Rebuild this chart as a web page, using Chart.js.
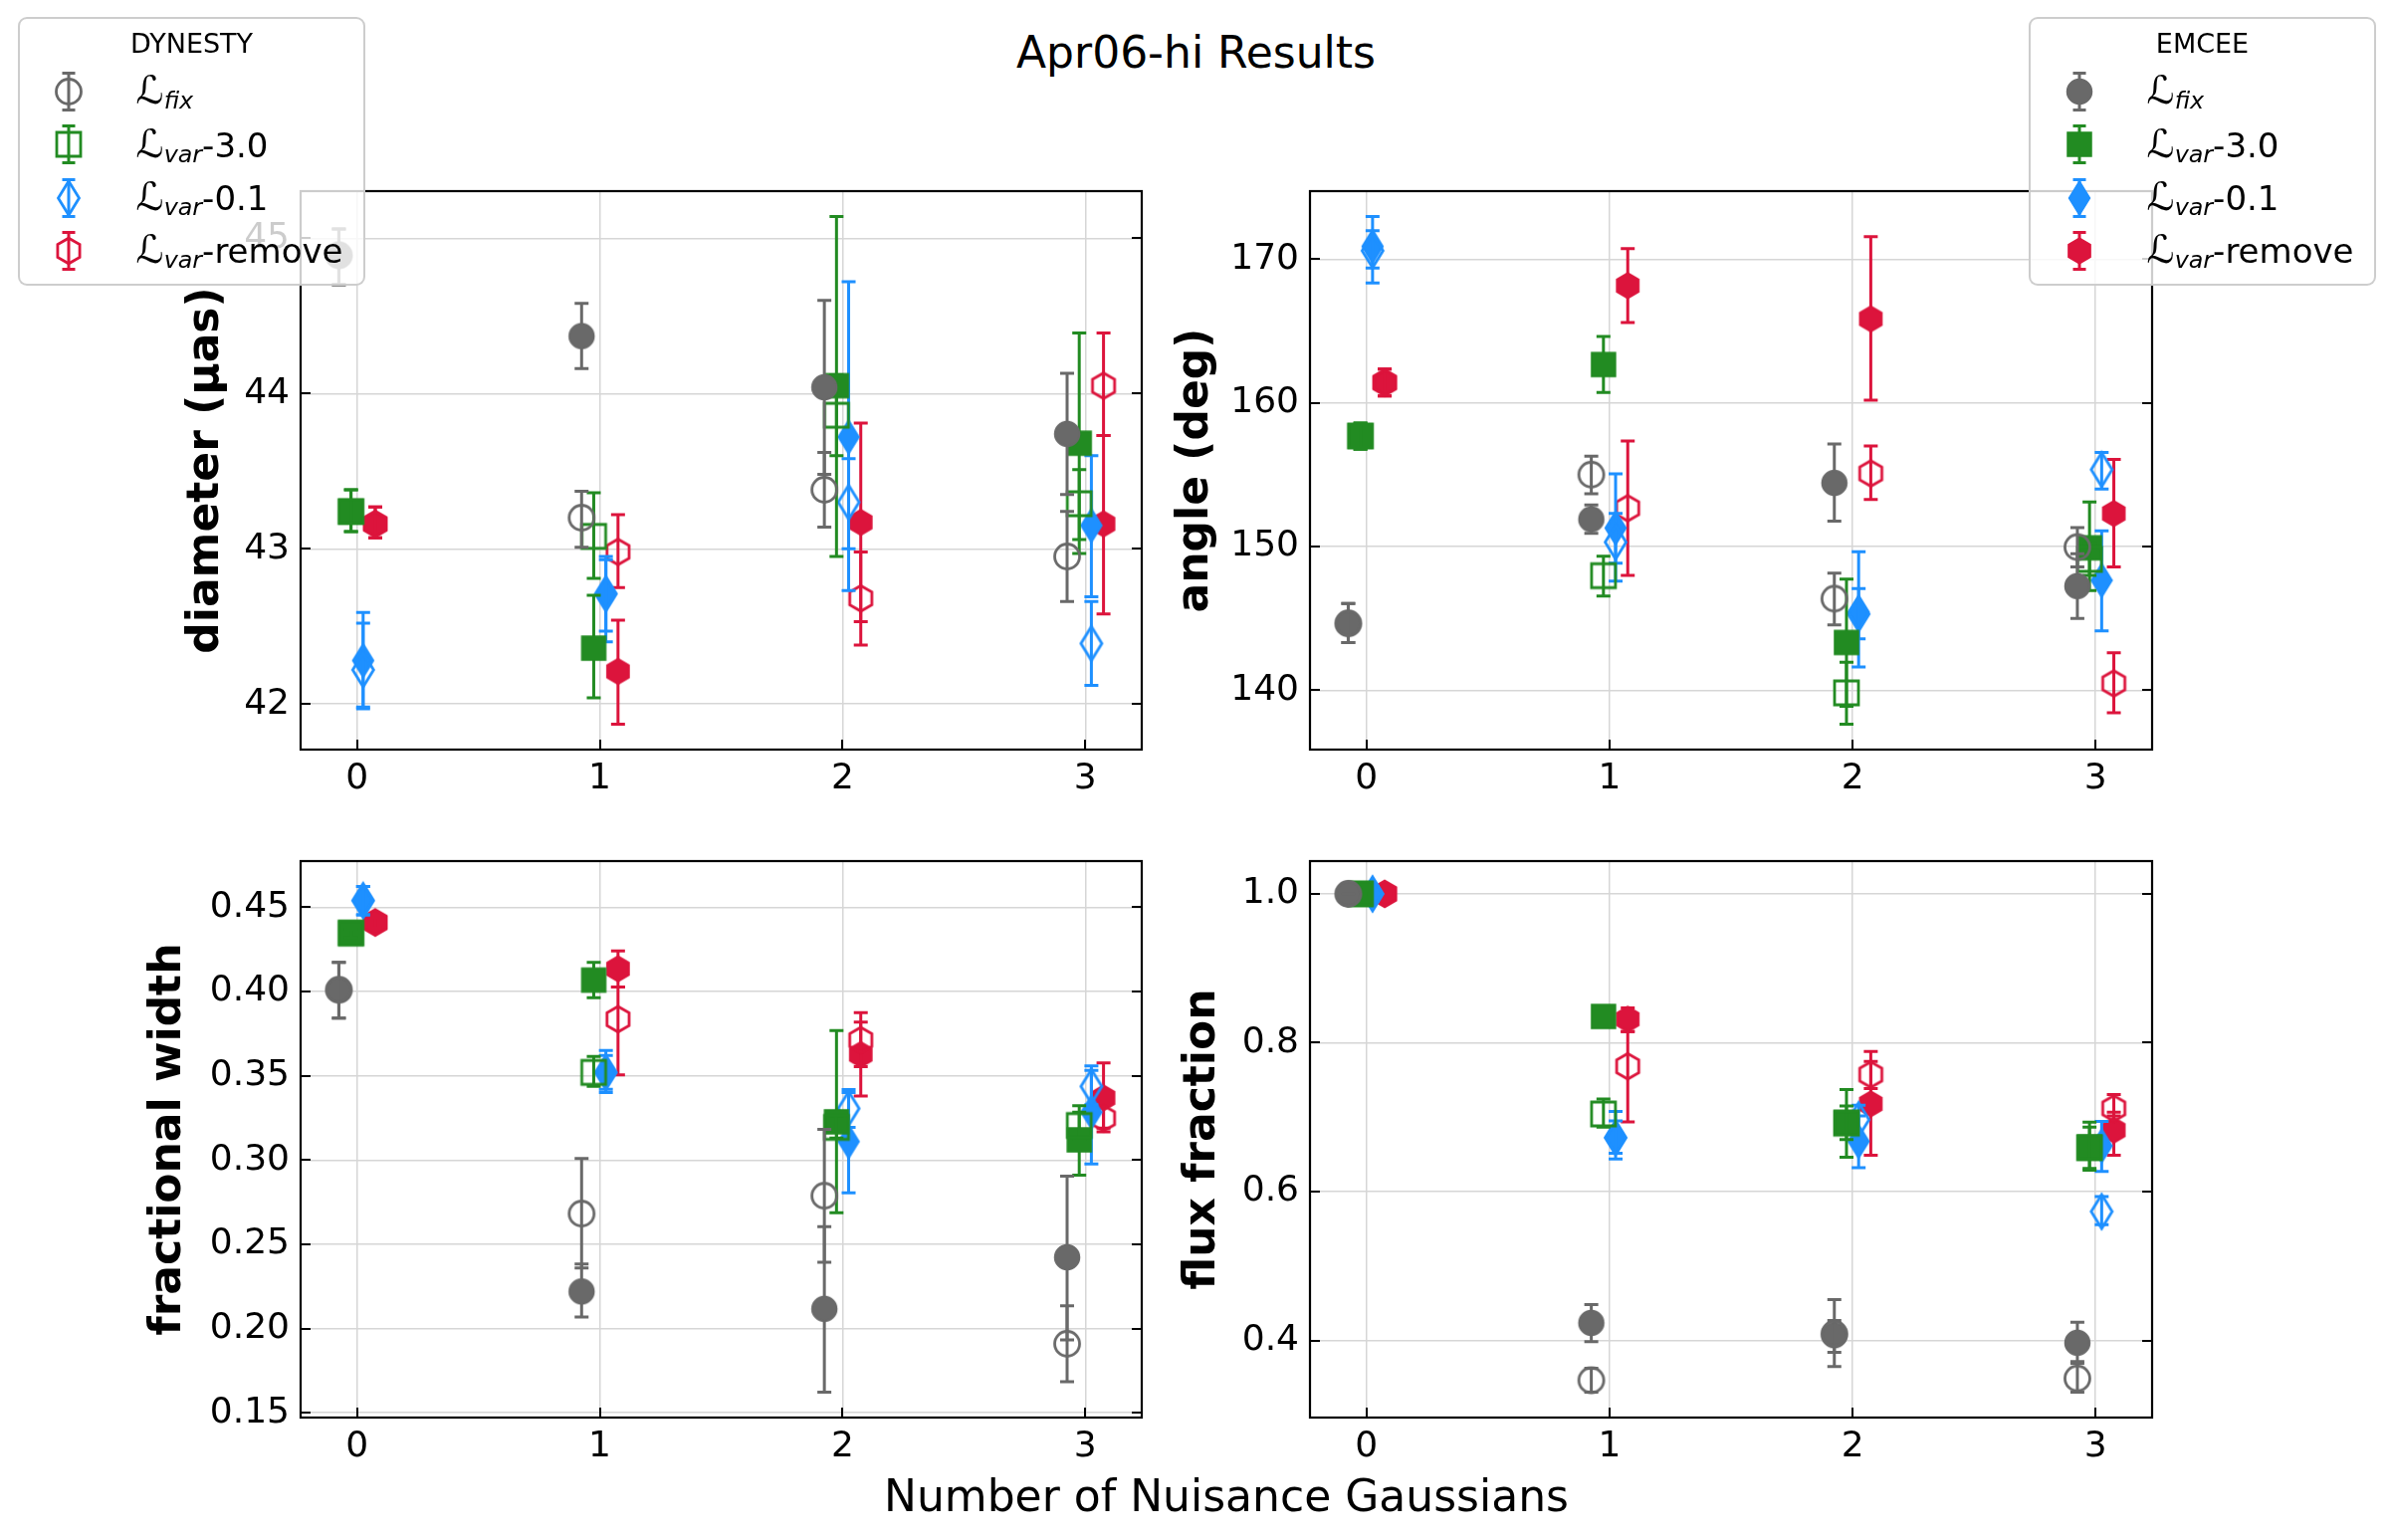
<!DOCTYPE html>
<html>
<head>
<meta charset="utf-8">
<script src="https://cdn.jsdelivr.net/npm/chart.js@4.4.1/dist/chart.umd.min.js"></script>
<style>
html,body{margin:0;padding:0;background:#fff;}
#wrap{position:relative;width:2403px;height:1547px;background:#fff;overflow:hidden;font-family:"DejaVu Sans",sans-serif;color:#000;}
canvas.panel{position:absolute;}
.lbl{position:absolute;white-space:nowrap;text-align:center;}
.legend{position:absolute;width:349px;height:270px;box-sizing:border-box;border:2.5px solid rgba(200,200,200,0.9);border-radius:9px;background:rgba(255,255,255,0.8);z-index:10;}
.legtitle{position:absolute;left:0;width:100%;text-align:center;font-size:27px;line-height:36px;top:7px;}
.legrow{position:absolute;left:0;width:100%;height:50px;}
.legrow canvas{position:absolute;top:0;}
.legtext{position:absolute;font-size:34px;line-height:50px;top:0;white-space:nowrap;}
.cal{font-size:1.15em;}
.sub{font-style:italic;font-size:0.7em;position:relative;top:5px;}
</style>
</head>
<body>
<div id="wrap">
  <canvas id="p1" class="panel"></canvas>
  <canvas id="p2" class="panel"></canvas>
  <canvas id="p3" class="panel"></canvas>
  <canvas id="p4" class="panel"></canvas>
  <div class="lbl" id="suptitle" style="left:0;width:2403px;top:27px;font-size:44px;line-height:52px;">Apr06-hi Results</div>
  <div class="lbl" id="supxlabel" style="left:0;width:2464px;top:1477px;font-size:44px;line-height:52px;">Number of Nuisance Gaussians</div>
  <div class="legend" id="legDyn" style="left:18px;top:17px;"></div>
  <div class="legend" id="legEmc" style="left:2038px;top:17px;"></div>
</div>
<script>
// ---------------- DATA ----------------
const categories = [0, 1, 2, 3];
const xTickLabels = ['0', '1', '2', '3'];

const diamTicks = [42, 43, 44, 45];
const angleTicks = [140, 150, 160, 170];
const widthTicks = [0.15, 0.20, 0.25, 0.30, 0.35, 0.40, 0.45];
const fluxTicks = [0.4, 0.6, 0.8, 1.0];

const seriesSubs = ['fix', 'var', 'var', 'var'];
const seriesSuffix = ['', '-3.0', '-0.1', '-remove'];

// each entry: [value, lower error end, upper error end], one per category
// diameter (μas)
const diamDynFix = [[44.89, 44.70, 45.06], [43.20, 43.01, 43.37], [43.38, 43.14, 43.62], [42.95, 42.66, 43.24]];
const diamEmcFix = [[44.89, 44.70, 45.06], [44.37, 44.16, 44.58], [44.04, 43.48, 44.60], [43.74, 43.35, 44.13]];
const diamDynV30 = [[43.24, 43.11, 43.38], [43.08, 42.81, 43.36], [43.86, 43.60, 44.12], [43.29, 43.06, 43.51]];
const diamEmcV30 = [[43.24, 43.11, 43.38], [42.36, 42.04, 42.70], [44.05, 42.95, 45.14], [43.68, 42.97, 44.39]];
const diamDynV01 = [[42.22, 41.98, 42.52], [42.71, 42.47, 42.93], [43.30, 43.00, 43.58], [42.39, 42.12, 42.66]];
const diamEmcV01 = [[42.28, 41.97, 42.59], [42.71, 42.40, 42.95], [43.72, 42.73, 44.72], [43.15, 42.69, 43.60]];
const diamDynRem = [[43.16, 43.07, 43.27], [42.98, 42.75, 43.22], [42.68, 42.38, 42.98], [44.05, 43.73, 44.39]];
const diamEmcRem = [[43.16, 43.07, 43.27], [42.21, 41.87, 42.54], [43.17, 42.53, 43.81], [43.16, 42.58, 43.73]];

// angle (deg)
const angDynFix = [[144.65, 143.32, 146.03], [155.01, 153.68, 156.29], [146.37, 144.54, 148.15], [149.96, 148.58, 151.32]];
const angEmcFix = [[144.65, 143.32, 146.03], [151.90, 150.92, 152.89], [154.43, 151.77, 157.14], [147.25, 144.99, 149.50]];
const angDynV30 = [[157.70, 156.77, 158.60], [147.97, 146.56, 149.33], [139.81, 137.63, 141.94], [149.11, 148.00, 150.20]];
const angEmcV30 = [[157.70, 156.77, 158.60], [162.67, 160.73, 164.63], [143.32, 138.88, 147.73], [149.91, 146.93, 153.10]];
const angDynV01 = [[170.60, 169.40, 172.00], [150.31, 148.85, 152.30], [145.30, 143.58, 147.07], [155.36, 154.00, 156.55]];
const angEmcV01 = [[170.90, 168.35, 172.98], [151.29, 147.60, 155.07], [145.44, 141.62, 149.64], [147.65, 144.12, 151.10]];
const angDynRem = [[161.42, 160.49, 162.35], [152.67, 148.00, 157.35], [155.09, 153.28, 157.00], [140.47, 138.43, 142.60]];
const angEmcRem = [[161.42, 160.49, 162.35], [168.17, 165.59, 170.74], [165.85, 160.19, 171.57], [152.30, 148.58, 156.07]];

// fractional width
const fwDynFix = [[0.401, 0.3842, 0.4173], [0.2682, 0.236, 0.301], [0.2788, 0.2394, 0.3182], [0.191, 0.1685, 0.2135]];
const fwEmcFix = [[0.401, 0.3842, 0.4173], [0.222, 0.2068, 0.2383], [0.2117, 0.1622, 0.2604], [0.2423, 0.1932, 0.2905]];
const fwDynV30 = [[0.4347, 0.432, 0.437], [0.352, 0.3437, 0.3615], [0.3194, 0.313, 0.326], [0.3205, 0.3126, 0.3284]];
const fwEmcV30 = [[0.4347, 0.432, 0.437], [0.4068, 0.3964, 0.4173], [0.3227, 0.2687, 0.3768], [0.312, 0.291, 0.3322]];
const fwDynV01 = [[0.454, 0.4455, 0.4624], [0.352, 0.342, 0.362], [0.3306, 0.3194, 0.3419], [0.3437, 0.3329, 0.3559]];
const fwEmcV01 = [[0.454, 0.4455, 0.4624], [0.352, 0.340, 0.365], [0.311, 0.2806, 0.340], [0.3284, 0.2977, 0.3532]];
const fwDynRem = [[0.441, 0.438, 0.444], [0.3836, 0.3505, 0.4027], [0.3712, 0.3554, 0.3874], [0.3248, 0.3167, 0.333]];
const fwEmcRem = [[0.441, 0.438, 0.444], [0.4135, 0.4027, 0.4241], [0.3626, 0.338, 0.3818], [0.3369, 0.319, 0.3577]];

// flux fraction
const ffDynFix = [[1.0, 1.0, 1.0], [0.3466, 0.3305, 0.3627], [0.409, 0.384, 0.427], [0.3491, 0.3305, 0.3718]];
const ffEmcFix = [[1.0, 1.0, 1.0], [0.4237, 0.3985, 0.4484], [0.4071, 0.3652, 0.4549], [0.397, 0.3693, 0.4247]];
const ffDynV30 = [[1.0, 1.0, 1.0], [0.7043, 0.6866, 0.7244], [0.692, 0.670, 0.715], [0.659, 0.6312, 0.6866]];
const ffEmcV30 = [[1.0, 1.0, 1.0], [0.8353, 0.833, 0.838], [0.6927, 0.6463, 0.737], [0.660, 0.6287, 0.6932]];
const ffDynV01 = [[1.0, 0.995, 1.005], [0.6725, 0.6514, 0.695], [0.6967, 0.6715, 0.7159], [0.5733, 0.5557, 0.5935]];
const ffEmcV01 = [[1.0, 0.99, 1.01], [0.6725, 0.6438, 0.7078], [0.6675, 0.6322, 0.7018], [0.6615, 0.6272, 0.6942]];
const ffDynRem = [[1.0, 1.0, 1.0], [0.7683, 0.6937, 0.8151], [0.7572, 0.7385, 0.7884], [0.7118, 0.7018, 0.7305]];
const ffEmcRem = [[1.0, 1.0, 1.0], [0.8317, 0.8151, 0.8469], [0.7179, 0.6489, 0.7748], [0.6826, 0.6489, 0.7068]];

// ---------------- STYLE ----------------
const seriesColors = ['#696969', '#228b22', '#1e90ff', '#dc143c'];
const seriesShapes = ['circle', 'square', 'thin_diamond', 'hexagon'];
const dodge = [-0.075, -0.025, 0.025, 0.075];
const TICK_FONT = 36, LABEL_FONT = 44;

function shapePath(ctx, shape, cx, cy) {
  ctx.beginPath();
  if (shape === 'circle') {
    ctx.arc(cx, cy, 12.5, 0, Math.PI * 2);
  } else if (shape === 'square') {
    ctx.rect(cx - 12, cy - 12, 24, 24);
  } else if (shape === 'thin_diamond') {
    ctx.moveTo(cx, cy - 17); ctx.lineTo(cx + 10.5, cy); ctx.lineTo(cx, cy + 17); ctx.lineTo(cx - 10.5, cy); ctx.closePath();
  } else {
    const R = 12.8;
    for (let k = 0; k < 6; k++) {
      const a = -Math.PI / 2 + k * Math.PI / 3;
      const px = cx + R * Math.cos(a), py = cy + R * Math.sin(a);
      if (k === 0) ctx.moveTo(px, py); else ctx.lineTo(px, py);
    }
    ctx.closePath();
  }
}
function makeMarker(shape, color, filled) {
  const c = document.createElement('canvas');
  c.width = 44; c.height = 44;
  const ctx = c.getContext('2d');
  shapePath(ctx, shape, 22, 22);
  if (filled) {
    ctx.fillStyle = color; ctx.fill();
    ctx.lineWidth = 1.5; ctx.strokeStyle = color; ctx.stroke();
  } else {
    ctx.lineWidth = 2.8; ctx.strokeStyle = color; ctx.stroke();
  }
  return c;
}
const markers = { dyn: [], emc: [] };
for (let s = 0; s < 4; s++) {
  markers.dyn.push(makeMarker(seriesShapes[s], seriesColors[s], false));
  markers.emc.push(makeMarker(seriesShapes[s], seriesColors[s], true));
}

// ---------------- PLUGINS ----------------
const ERR_LW = 3, CAP = 7;
const errorBarPlugin = {
  id: 'errbars',
  beforeDatasetDraw(chart, args) {
    const ds = chart.data.datasets[args.index];
    const xs = chart.scales.x, ys = chart.scales.y, a = chart.chartArea, ctx = chart.ctx;
    ctx.save();
    ctx.beginPath(); ctx.rect(a.left, a.top, a.right - a.left, a.bottom - a.top); ctx.clip();
    ctx.strokeStyle = ds.errColor; ctx.lineWidth = ERR_LW; ctx.lineCap = 'butt';
    ds.data.forEach(p => {
      const x = xs.getPixelForValue(p.x);
      const y1 = ys.getPixelForValue(p.lo), y2 = ys.getPixelForValue(p.hi);
      ctx.beginPath();
      ctx.moveTo(x, y1); ctx.lineTo(x, y2);
      ctx.moveTo(x - CAP, y1); ctx.lineTo(x + CAP, y1);
      ctx.moveTo(x - CAP, y2); ctx.lineTo(x + CAP, y2);
      ctx.stroke();
    });
    ctx.restore();
  }
};
const framePlugin = {
  id: 'frame',
  afterDatasetsDraw(chart) {
    const ctx = chart.ctx, a = chart.chartArea, xs = chart.scales.x, ys = chart.scales.y;
    ctx.save();
    ctx.strokeStyle = '#000'; ctx.lineWidth = 2;
    ctx.beginPath();
    ys.ticks.forEach(t => {
      const py = Math.round(ys.getPixelForValue(t.value));
      ctx.moveTo(a.left, py); ctx.lineTo(a.left + 10, py);
      ctx.moveTo(a.right, py); ctx.lineTo(a.right - 10, py);
    });
    xs.ticks.forEach(t => {
      const px = Math.round(xs.getPixelForValue(t.value));
      ctx.moveTo(px, a.bottom); ctx.lineTo(px, a.bottom - 10);
    });
    ctx.stroke();
    ctx.lineWidth = 2.2;
    ctx.strokeRect(a.left, a.top, a.right - a.left, a.bottom - a.top);
    ctx.restore();
  }
};

// ---------------- PANELS ----------------
const panels = [
  { id: 'p1', area: [302, 192, 1147, 753], titleX: 207, title: 'diameter (\u03bcas)', ticks: diamTicks, fmt: v => v.toFixed(0),
    dyn: [diamDynFix, diamDynV30, diamDynV01, diamDynRem], emc: [diamEmcFix, diamEmcV30, diamEmcV01, diamEmcRem] },
  { id: 'p2', area: [1316, 192, 2162, 753], titleX: 1201, title: 'angle (deg)', ticks: angleTicks, fmt: v => v.toFixed(0),
    dyn: [angDynFix, angDynV30, angDynV01, angDynRem], emc: [angEmcFix, angEmcV30, angEmcV01, angEmcRem] },
  { id: 'p3', area: [302, 865, 1147, 1424], titleX: 169, title: 'fractional width', ticks: widthTicks, fmt: v => v.toFixed(2),
    dyn: [fwDynFix, fwDynV30, fwDynV01, fwDynRem], emc: [fwEmcFix, fwEmcV30, fwEmcV01, fwEmcRem] },
  { id: 'p4', area: [1316, 865, 2162, 1424], titleX: 1208, title: 'flux fraction', ticks: fluxTicks, fmt: v => v.toFixed(1),
    dyn: [ffDynFix, ffDynV30, ffDynV01, ffDynRem], emc: [ffEmcFix, ffEmcV30, ffEmcV01, ffEmcRem] }
];

function withMargin(lo, hi) { const m = (hi - lo) * 0.05; return [lo - m, hi + m]; }

panels.forEach(P => {
  const [L, T, R, B] = P.area;
  const titleLH = LABEL_FONT * 1.2;
  const cLeft = Math.round(P.titleX - titleLH / 2);
  const padTop = 45, padRight = 30, xH = 80;
  const cTop = T - padTop;
  const W = (R + padRight) - cLeft, H = (B + xH) - cTop;
  const cv = document.getElementById(P.id);
  cv.width = W; cv.height = H;
  cv.style.left = cLeft + 'px'; cv.style.top = cTop + 'px';
  cv.style.width = W + 'px'; cv.style.height = H + 'px';

  const datasets = [];
  let yLo = Infinity, yHi = -Infinity;
  for (let s = 0; s < 4; s++) {
    ['dyn', 'emc'].forEach(m => {
      const arr = P[m][s];
      arr.forEach(r => { yLo = Math.min(yLo, r[1]); yHi = Math.max(yHi, r[2]); });
      datasets.push({
        label: m + '-' + s,
        data: categories.map((c, i) => ({ x: c + dodge[s], y: arr[i][0], lo: arr[i][1], hi: arr[i][2] })),
        pointStyle: markers[m][s],
        pointRadius: 10,
        showLine: false,
        errColor: seriesColors[s]
      });
    });
  }
  const [xMin, xMax] = withMargin(Math.min(...categories) + Math.min(...dodge), Math.max(...categories) + Math.max(...dodge));
  const [yMin, yMax] = withMargin(yLo, yHi);

  new Chart(cv, {
    type: 'scatter',
    data: { datasets },
    options: {
      responsive: false, animation: false, events: [], devicePixelRatio: 1,
      layout: { padding: { left: 0, top: padTop, right: padRight, bottom: 0 } },
      plugins: { legend: { display: false }, tooltip: { enabled: false }, title: { display: false } },
      scales: {
        x: {
          type: 'linear', position: 'bottom', min: xMin, max: xMax,
          afterBuildTicks: s => { s.ticks = categories.map(v => ({ value: v })); },
          afterFit: s => { s.height = xH; },
          ticks: { callback: (v) => xTickLabels[categories.indexOf(v)], font: { size: TICK_FONT, family: 'DejaVu Sans' }, color: '#000', padding: 8, maxRotation: 0, autoSkip: false },
          grid: { color: '#d6d6d6', lineWidth: 1.5, drawTicks: false },
          border: { display: false }
        },
        y: {
          type: 'linear', position: 'left', min: yMin, max: yMax,
          afterBuildTicks: s => { s.ticks = P.ticks.map(v => ({ value: v })); },
          afterFit: s => { s.width = L - cLeft; },
          ticks: { callback: (v) => P.fmt(v), font: { size: TICK_FONT, family: 'DejaVu Sans' }, color: '#000', padding: 11, autoSkip: false },
          grid: { color: '#d6d6d6', lineWidth: 1.5, drawTicks: false },
          border: { display: false },
          title: { display: true, text: P.title, font: { size: LABEL_FONT, weight: 'bold', family: 'DejaVu Sans' }, color: '#000', padding: 0 }
        }
      }
    },
    plugins: [errorBarPlugin, framePlugin]
  });
});

// ---------------- LEGENDS ----------------
function buildLegend(el, title, kind) {
  const B = 2.5;
  const t = document.createElement('div'); t.className = 'legtitle'; t.textContent = title; el.appendChild(t);
  for (let s = 0; s < 4; s++) {
    const row = document.createElement('div'); row.className = 'legrow';
    row.style.top = (75.5 + s * 53.3 - 25 - B) + 'px';
    const c = document.createElement('canvas'); c.width = 44; c.height = 50;
    c.style.left = (51 - 22 - B) + 'px';
    const ctx = c.getContext('2d');
    ctx.strokeStyle = seriesColors[s]; ctx.lineWidth = ERR_LW;
    ctx.beginPath();
    ctx.moveTo(22, 6.5); ctx.lineTo(22, 43.5);
    ctx.moveTo(15.5, 6.5); ctx.lineTo(28.5, 6.5);
    ctx.moveTo(15.5, 43.5); ctx.lineTo(28.5, 43.5);
    ctx.stroke();
    ctx.drawImage(markers[kind][s], 0, 3);
    row.appendChild(c);
    const tx = document.createElement('span'); tx.className = 'legtext';
    tx.style.left = (119 - B) + 'px';
    tx.style.top = '-0.75px';
    tx.innerHTML = '<span class="cal">\u2112</span><span class="sub">' + seriesSubs[s] + '</span>' + seriesSuffix[s];
    row.appendChild(tx);
    el.appendChild(row);
  }
}
buildLegend(document.getElementById('legDyn'), 'DYNESTY', 'dyn');
buildLegend(document.getElementById('legEmc'), 'EMCEE', 'emc');
</script>
</body>
</html>
